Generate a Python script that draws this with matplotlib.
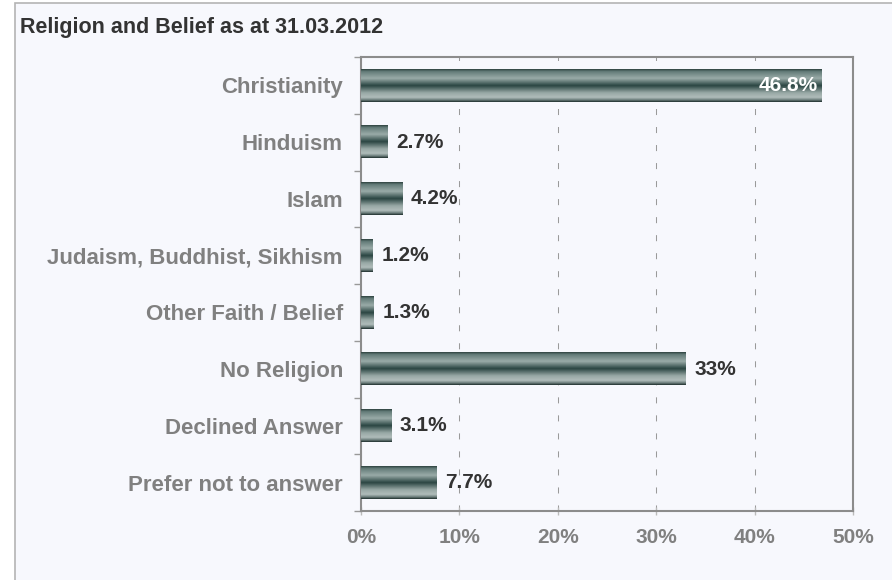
import numpy as np
import matplotlib
matplotlib.use("Agg")
import matplotlib.pyplot as plt
from matplotlib.patches import Rectangle
from matplotlib.colors import LinearSegmentedColormap

plt.rcParams['font.family'] = ['Liberation Sans', 'DejaVu Sans']

title = "Religion and Belief as at 31.03.2012"
categories = ["Christianity", "Hinduism", "Islam", "Judaism, Buddhist, Sikhism",
              "Other Faith / Belief", "No Religion", "Declined Answer",
              "Prefer not to answer"]
values = [46.8, 2.7, 4.2, 1.2, 1.3, 33.0, 3.1, 7.7]
value_labels = ["46.8%", "2.7%", "4.2%", "1.2%", "1.3%", "33%", "3.1%", "7.7%"]
xticks = [0, 10, 20, 30, 40, 50]
xtick_labels = ["0%", "10%", "20%", "30%", "40%", "50%"]

W, H = 892, 580
fig = plt.figure(figsize=(W / 100, H / 100), dpi=100)
fig.patch.set_facecolor("white")

# background panel with a thin border
panel = Rectangle((15 / W, -0.01), 1.0, 1 - 3 / H + 0.01, transform=fig.transFigure,
                  facecolor="#F7F8FD", edgecolor="#B4B4B4", linewidth=1.2, zorder=-5)
fig.patches.append(panel)

fig.text(20 / W, 1 - 27 / H, title, fontsize=15.5, fontweight="bold", color="#333333",
         va="center", ha="left")

left, right, top, bottom = 361, 853, 57, 511
ax = fig.add_axes([left / W, 1 - bottom / H, (right - left) / W, (bottom - top) / H])
ax.set_facecolor("none")

n = len(categories)
ypos = np.arange(n)
bar_h = 0.57

# shaded cylinder-like fill for the bars
stops = [(0.0, "#2c403e"), (0.07, "#627b77"), (0.28, "#9aaba8"), (0.5, "#2a4542"),
         (0.72, "#98a8a5"), (0.86, "#b0bcba"), (0.94, "#6a7c79"), (1.0, "#1c2c2a")]
cmap = LinearSegmentedColormap.from_list("bar_shade", stops)
grad = np.linspace(0, 1, 256).reshape(-1, 1)

bars = ax.barh(ypos, values, height=bar_h, color="none", edgecolor="none", zorder=3)
for bar in bars:
    x0, y0 = bar.get_x(), bar.get_y()
    w, h = bar.get_width(), bar.get_height()
    ax.imshow(grad, cmap=cmap, aspect="auto", extent=(x0, x0 + w, y0 + h, y0),
              interpolation="bilinear", zorder=3)

for i, (v, lab) in enumerate(zip(values, value_labels)):
    if i == 0:
        ax.annotate(lab, (v, i), xytext=(-3, 0), textcoords="offset points",
                    ha="right", va="center", fontsize=15, fontweight="bold",
                    color="white", zorder=5)
    else:
        ax.annotate(lab, (v, i), xytext=(6, 0), textcoords="offset points",
                    ha="left", va="center", fontsize=15, fontweight="bold",
                    color="#333333", zorder=5)

ax.set_xlim(0, 50)
ax.set_ylim(n - 0.5, -0.5)

ax.set_xticks(xticks)
ax.set_xticklabels(xtick_labels)
ax.set_yticks(ypos)
ax.set_yticklabels(categories)
ax.set_yticks(np.arange(-0.5, n, 1.0), minor=True)

for lbl in ax.get_yticklabels():
    lbl.set_fontweight("bold")
    lbl.set_color("#808080")
    lbl.set_fontsize(16)
for lbl in ax.get_xticklabels():
    lbl.set_fontweight("bold")
    lbl.set_color("#808080")
    lbl.set_fontsize(15)

ax.tick_params(axis="y", which="major", length=0, pad=13)
ax.tick_params(axis="y", which="minor", length=5, color="#999999", width=1, direction="out")
ax.tick_params(axis="x", which="major", length=6, color="#BBBBBB", width=1,
               direction="inout", pad=9)

ax.grid(axis="x", color="#9A9A9A", linestyle=(0, (5.8, 11.5)), linewidth=0.75, zorder=1)
ax.set_axisbelow(True)
for s in ax.spines.values():
    s.set_color("#8C8C8C")
    s.set_linewidth(1.5)

fig.savefig("out.png", dpi=100, facecolor=fig.get_facecolor())
